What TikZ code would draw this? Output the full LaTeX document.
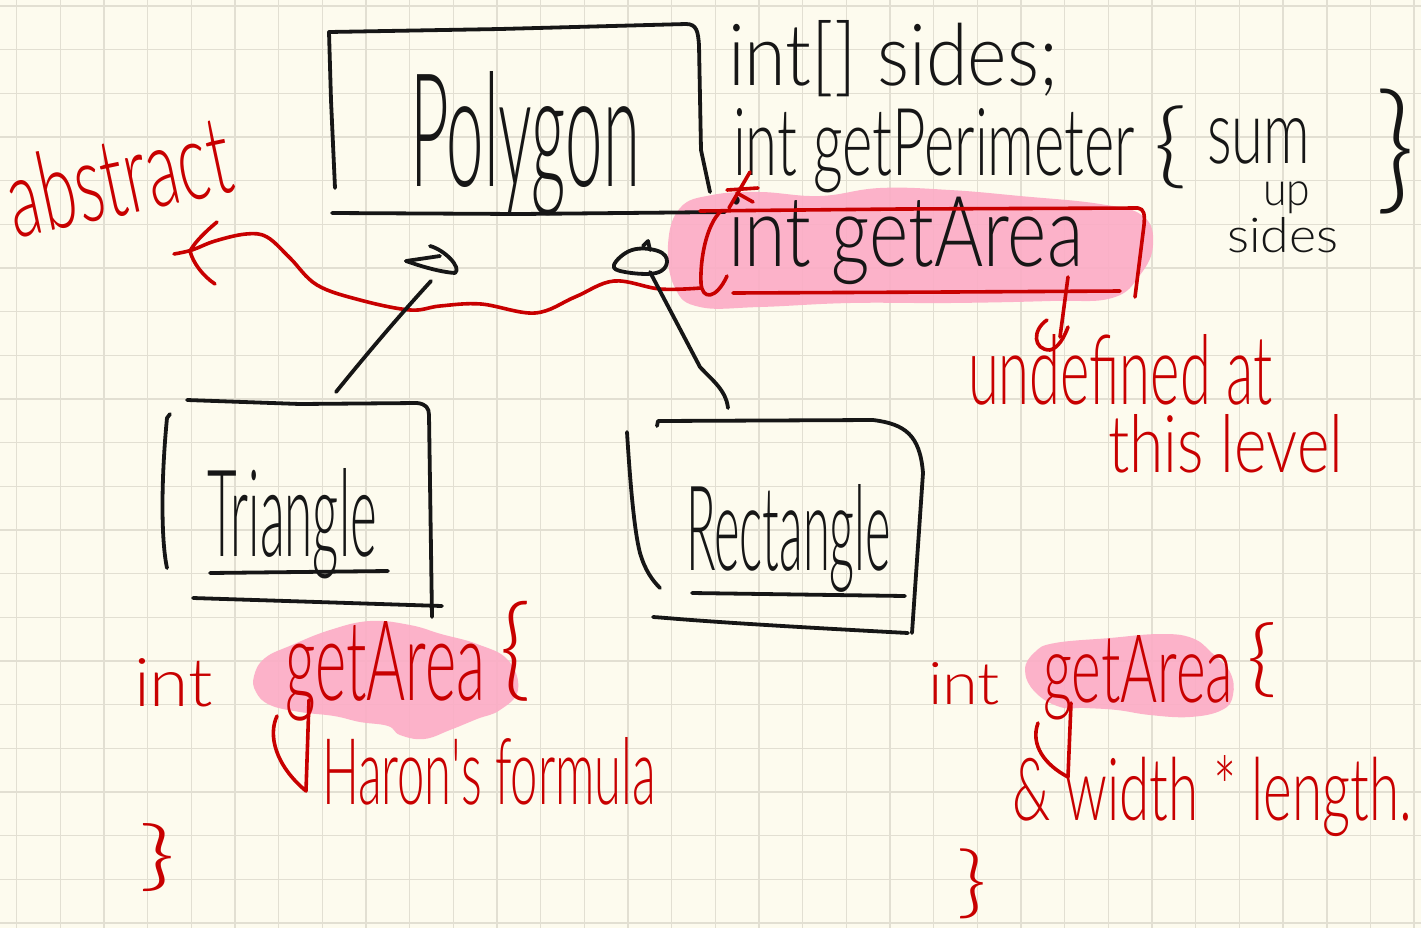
\documentclass[tikz,border=0pt]{standalone}
\usepackage{fontspec}
\usepackage{graphicx}
\newfontfamily\pen{Lato Light}
\newlength\pxu
\setlength\pxu{0.5pt}
% text squeezed into a given width and height (height above the baseline)
\newcommand\hw[3]{\resizebox{#1\pxu}{#2\pxu}{\pen #3}}
% same, but the height is the total height (for braces)
\newcommand\hwt[3]{\resizebox*{#1\pxu}{#2\pxu}{\pen #3}}
\definecolor{paper}{RGB}{253,251,238}
\definecolor{gridc}{RGB}{226,223,210}
\definecolor{ink}{RGB}{22,22,22}
\definecolor{redink}{RGB}{200,0,0}
\definecolor{marker}{RGB}{252,172,198}
\begin{document}
\begin{tikzpicture}[x=0.5pt,y=-0.5pt,
  pen/.style={draw=ink, line width=1.9pt, line cap=round, line join=round},
  redpen/.style={draw=redink, line width=1.8pt, line cap=round, line join=round},
  hl/.style={fill=marker, draw=none, fill opacity=0.92},
  lbl/.style={inner sep=0pt, outer sep=0pt, anchor=base west, text=ink},
  rlbl/.style={lbl, text=redink},
  brace/.style={inner sep=0pt, outer sep=0pt, anchor=center, text=ink},
  rbrace/.style={brace, text=redink},
  gridline/.style={draw=gridc, line width=0.7pt}]

% paper and squared grid
\fill[paper] (0,0) rectangle (1421,928);
\useasboundingbox (0,0) rectangle (1421,928);
\foreach \i in {0,...,32} \draw[gridline] ({16.7+43.67*\i},0) -- ({16.7+43.67*\i},928);
\foreach \j in {0,...,21} \draw[gridline] (0,{6+43.67*\j}) -- (1421,{6+43.67*\j});

% highlighter marks
\fill[hl] plot[smooth cycle, tension=0.7] coordinates {(668,245) (680,208) (712,195) (760,192) (820,196) (880,188) (950,190) (1020,196) (1100,204) (1143,216) (1153,245) (1140,275) (1112,298) (1050,301) (950,303) (850,303) (760,307) (700,307) (675,288)};
\fill[hl] plot[smooth cycle, tension=0.7] coordinates {(254,676) (265,658) (292,645) (330,630) (370,621) (410,625) (441,634) (477,644) (508,660) (518,690) (500,710) (477,719) (450,730) (424,739) (400,735) (388,726) (360,722) (334,716) (300,712) (270,705) (256,692)};
\fill[hl] plot[smooth cycle, tension=0.7] coordinates {(1025,670) (1035,652) (1055,643) (1110,638) (1160,634) (1192,638) (1212,653) (1230,672) (1233,695) (1222,710) (1190,717) (1150,715) (1117,710) (1085,708) (1060,707) (1035,692)};

% ---- Polygon class ----
\draw[pen] (335,188) -- (331,100) -- (329,32) -- (500,29) -- (686,24)
  .. controls (697,24) and (698,32) .. (699,45) -- (701,150) -- (710,192);
\draw[pen] (332,213) -- (520,214) -- (725,212);
\node[lbl] (polygon) at (410,186) {\hw{230}{115}{Polygon}};

% members
\node[lbl] (sides) at (728,85) {\hw{330}{65}{int[] sides;}};
\node[lbl] (perim) at (733,175) {\hw{402}{67}{int getPerimeter}};
\node[brace] (perim-open) at (1170,147) {\hwt{34}{83}{\{}};
\node[lbl] (sum) at (1207,163) {\hw{103}{45}{sum}};
\node[brace] (up) at (1287,198) {\hwt{47}{32}{up}};
\node[lbl] (sides2) at (1227,252) {\hw{111}{35}{sides}};
\node[brace] (perim-close) at (1395,152) {\hwt{40}{125}{\}}};
\node[lbl] (area) at (728,266) {\hw{355}{70}{int getArea}};

% abstract method frame
\draw[redpen] (700,211) -- (900,209) -- (1138,208) .. controls (1144,209) and (1145,214) .. (1144,225) -- (1135,297);
\draw[redpen] (733,293) -- (950,292) -- (1120,291);
\draw[redpen] (721,211) .. controls (706,225) and (700,260) .. (701,283) .. controls (702,300) and (716,300) .. (727,276);
\draw[redpen] (750,172) -- (729,208);
\draw[redpen] (727,190) -- (758,188);
\draw[redpen] (737,193) -- (753,202);

% "abstract" note with its arrow
\node[rlbl, rotate=12] (abstract) at (16,238) {\hw{226}{80}{abstract}};
\coordinate (area-left) at (701,288);
\coordinate (abstract-tip) at (174,254);
\draw[redpen] plot[smooth, tension=0.6] coordinates {(area-left) (660,289) (614,281) (575,297) (535,313) (481,304) (440,306) (410,310) (360,300) (317,285) (290,258) (267,237) (246,234) (215,241) (192,250) (abstract-tip)};
\draw[redpen] (217,222) .. controls (205,232) and (195,242) .. (190,251) .. controls (193,263) and (203,276) .. (215,284);

% "undefined at this level" note
\coordinate (area-bottom) at (1068,277);
\coordinate (undef-top) at (1060,337);
\draw[redpen] (area-bottom) -- (undef-top);
\draw[redpen] (1047,320) .. controls (1032,330) and (1033,350) .. (1050,350) .. controls (1058,348) and (1064,338) .. (1068,327);
\node[rlbl] (undef) at (968,404) {\hw{304}{70}{undefined at}};
\node[rlbl] (level) at (1108,472) {\hw{235}{58}{this level}};

% ---- Triangle class ----
\draw[pen] (170,414) -- (167,418) .. controls (161,480) and (161,540) .. (167,568);
\draw[pen] (187,400) -- (300,404) -- (417,403) .. controls (426,404) and (429,408) .. (429,415) -- (432,617);
\draw[pen] (193,598) -- (442,606);
\node[lbl] (triangle) at (207,556) {\hw{170}{88}{Triangle}};
\draw[pen] (210,573) -- (388,571);

% ---- Rectangle class ----
\draw[pen] (627,432) .. controls (630,480) and (634,530) .. (640,553) .. controls (645,570) and (652,580) .. (660,588);
\draw[pen] (657,426) -- (658,421) -- (873,420) .. controls (905,424) and (920,435) .. (923,473) -- (912,633);
\draw[pen] (653,617) .. controls (670,618) and (700,622) .. (908,633);
\node[lbl] (rectangle) at (686,570) {\hw{205}{86}{Rectangle}};
\draw[pen] (692,593) -- (905,596);

% ---- inheritance arrows ----
\coordinate (tri-top) at (336,392);
\coordinate (poly-in1) at (431,281);
\draw[pen] (tri-top) .. controls (370,350) and (400,315) .. (poly-in1);
\draw[pen] (406,261) -- (440,256);
\draw[pen] (430,246) .. controls (445,250) and (462,268) .. (455,273) .. controls (440,272) and (420,266) .. (406,261);
\coordinate (rect-top) at (728,408);
\coordinate (poly-in2) at (650,272);
\draw[pen] (rect-top) .. controls (726,390) and (712,380) .. (700,367) -- (poly-in2);
\draw[pen] plot[smooth cycle, tension=0.7] coordinates {(614,265) (632,250) (658,251) (667,262) (656,273) (625,272)};
\draw[pen] (643,246) -- (648,241) -- (650,250);

% ---- Triangle getArea ----
\node[rlbl] (tri-int) at (134,706) {\hw{79}{48}{int}};
\node[rlbl] (tri-area) at (285,700) {\hw{200}{79}{getArea}};
\node[rbrace] (tri-open) at (515,651) {\hwt{32}{100}{\{}};
\draw[redpen] (277,716) .. controls (268,735) and (275,765) .. (306,791) -- (309,700);
\node[rlbl] (heron) at (322,804) {\hw{334}{67}{Haron's formula}};
\node[rbrace] (tri-close) at (158,858) {\hwt{38}{68}{\}}};

% ---- Rectangle getArea ----
\node[rlbl] (rect-int) at (928,704) {\hw{72}{42}{int}};
\node[rlbl] (rect-area) at (1043,702) {\hw{190}{67}{getArea}};
\node[rbrace] (rect-open) at (1262,660) {\hwt{31}{75}{\{}};
\draw[redpen] (1038,723) .. controls (1030,745) and (1045,765) .. (1068,777) -- (1071,703);
\node[rlbl] (product) at (1012,820) {\hw{400}{65}{\& width * length.}};
\node[rbrace] (rect-close) at (972,884) {\hwt{31}{70}{\}}};
\end{tikzpicture}
\end{document}
